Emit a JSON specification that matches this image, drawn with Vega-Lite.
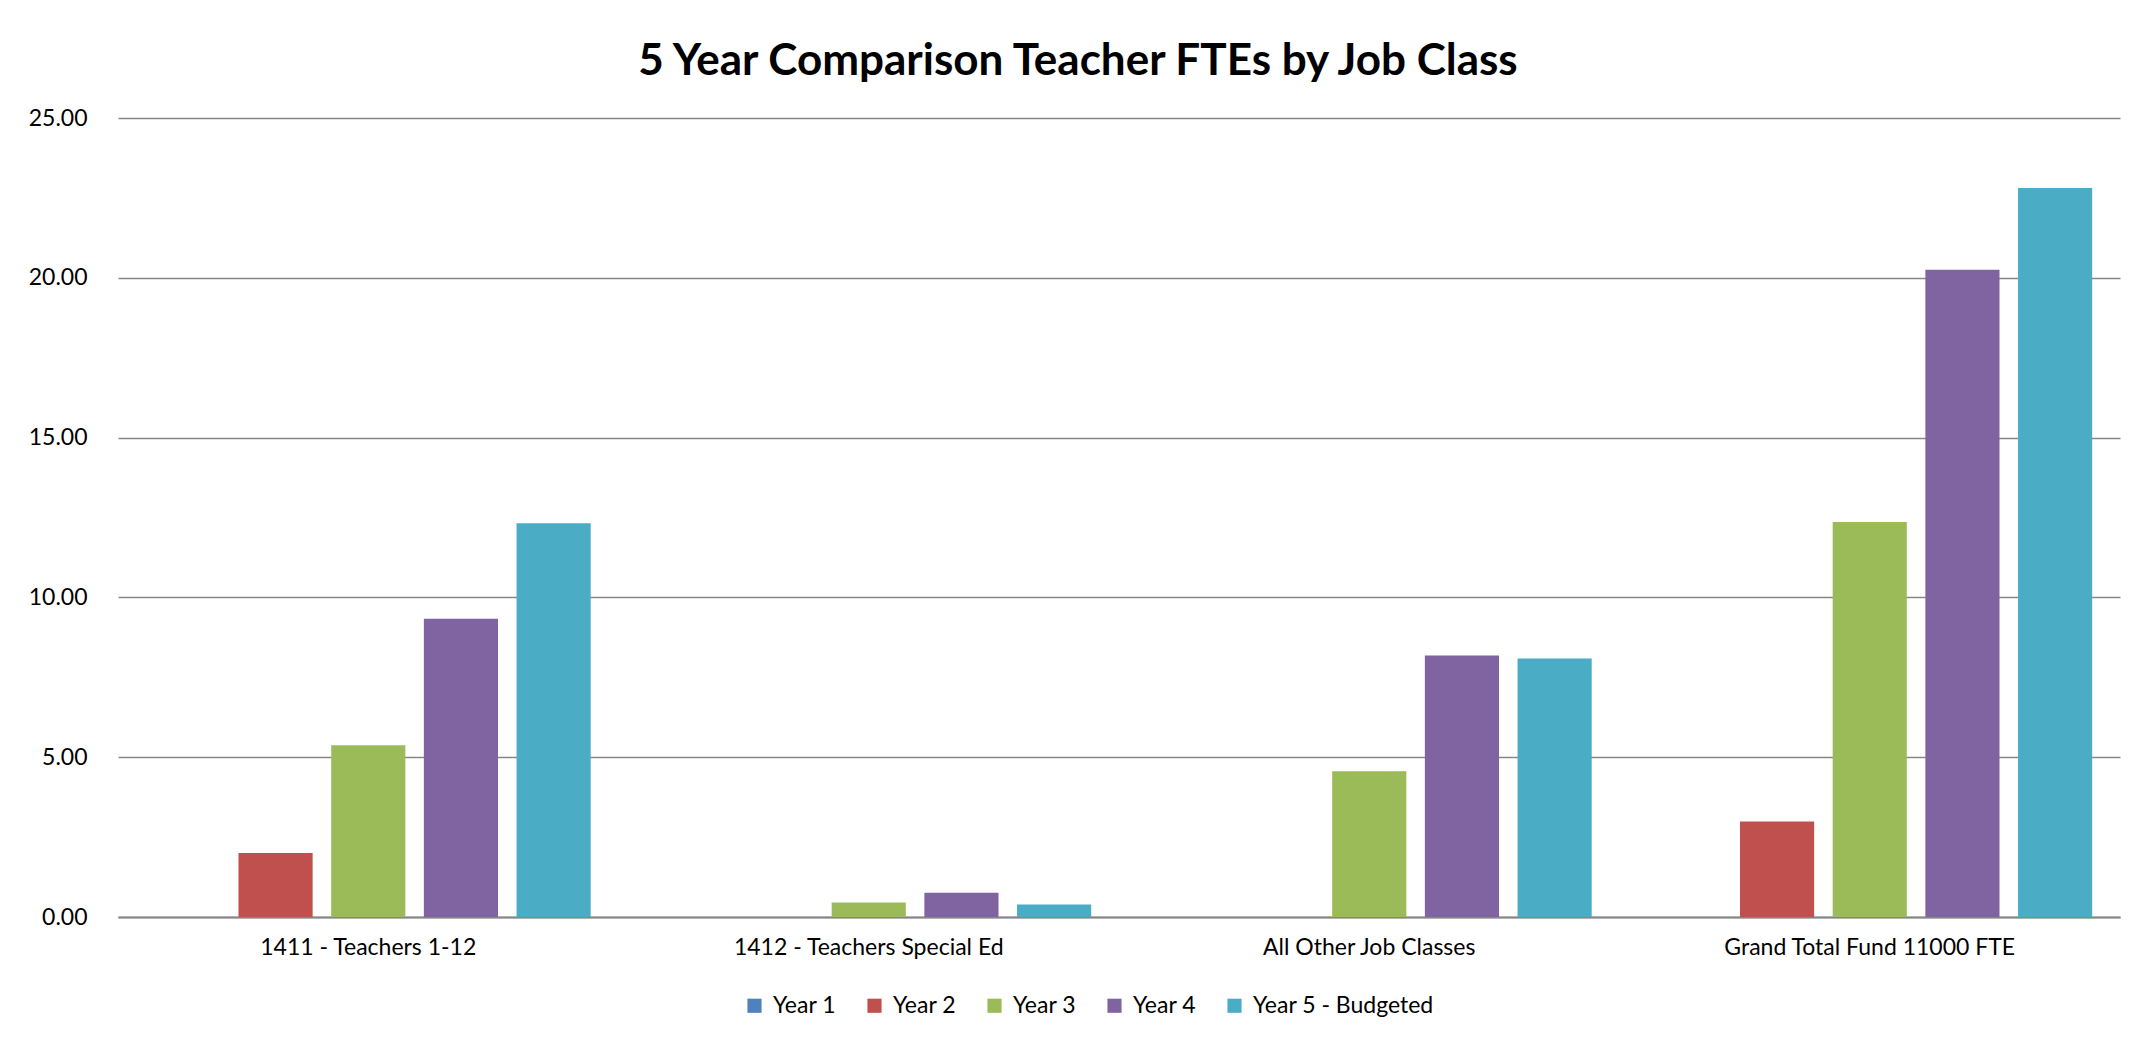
{
  "$schema": "https://vega.github.io/schema/vega-lite/v6.json",
  "autosize": "none",
  "width": 2002,
  "height": 799,
  "padding": {"left": 118, "top": 118, "right": 14, "bottom": 129},
  "background": "white",
  "title": {
    "text": "5 Year Comparison Teacher FTEs by Job Class",
    "font": "Lato",
    "fontWeight": "bold",
    "fontSize": 44,
    "color": "#000000",
    "anchor": "middle",
    "dx": -41,
    "offset": 23
  },
  "data": {
    "values": [
      {"job": "1411 - Teachers 1-12", "year": "Year 1", "fte": 0},
      {"job": "1411 - Teachers 1-12", "year": "Year 2", "fte": 2.0},
      {"job": "1411 - Teachers 1-12", "year": "Year 3", "fte": 5.37},
      {"job": "1411 - Teachers 1-12", "year": "Year 4", "fte": 9.33},
      {"job": "1411 - Teachers 1-12", "year": "Year 5 - Budgeted", "fte": 12.32},
      {"job": "1412 - Teachers Special Ed", "year": "Year 1", "fte": 0},
      {"job": "1412 - Teachers Special Ed", "year": "Year 2", "fte": 0},
      {"job": "1412 - Teachers Special Ed", "year": "Year 3", "fte": 0.45},
      {"job": "1412 - Teachers Special Ed", "year": "Year 4", "fte": 0.76},
      {"job": "1412 - Teachers Special Ed", "year": "Year 5 - Budgeted", "fte": 0.39},
      {"job": "All Other Job Classes", "year": "Year 1", "fte": 0},
      {"job": "All Other Job Classes", "year": "Year 2", "fte": 0},
      {"job": "All Other Job Classes", "year": "Year 3", "fte": 4.56},
      {"job": "All Other Job Classes", "year": "Year 4", "fte": 8.18},
      {"job": "All Other Job Classes", "year": "Year 5 - Budgeted", "fte": 8.09},
      {"job": "Grand Total Fund 11000 FTE", "year": "Year 1", "fte": 0},
      {"job": "Grand Total Fund 11000 FTE", "year": "Year 2", "fte": 2.99},
      {"job": "Grand Total Fund 11000 FTE", "year": "Year 3", "fte": 12.36},
      {"job": "Grand Total Fund 11000 FTE", "year": "Year 4", "fte": 20.25},
      {"job": "Grand Total Fund 11000 FTE", "year": "Year 5 - Budgeted", "fte": 22.81}
    ]
  },
  "mark": {"type": "bar"},
  "encoding": {
    "x": {
      "field": "job",
      "type": "nominal",
      "sort": null,
      "scale": {"paddingInner": 0, "paddingOuter": 0},
      "axis": {
        "title": null,
        "labelAngle": 0,
        "labelFont": "Lato",
        "labelFontSize": 23,
        "labelColor": "#000000",
        "labelPadding": 19,
        "labelLimit": 0,
        "ticks": false,
        "domainColor": "#868686",
        "domainWidth": 2,
        "grid": false
      }
    },
    "xOffset": {
      "field": "year",
      "type": "nominal",
      "sort": null,
      "scale": {"paddingInner": 0.2, "paddingOuter": 0.3}
    },
    "y": {
      "field": "fte",
      "type": "quantitative",
      "scale": {"domain": [0, 25], "nice": false},
      "axis": {
        "title": null,
        "values": [0, 5, 10, 15, 20, 25],
        "format": ".2f",
        "labelFont": "Lato",
        "labelFontSize": 23,
        "labelColor": "#000000",
        "labelPadding": 31,
        "ticks": false,
        "domain": false,
        "gridColor": "#868686",
        "gridWidth": 1.5
      }
    },
    "color": {
      "field": "year",
      "type": "nominal",
      "sort": null,
      "scale": {
        "domain": ["Year 1", "Year 2", "Year 3", "Year 4", "Year 5 - Budgeted"],
        "range": ["#4F81BD", "#C0504D", "#9BBB59", "#8064A2", "#4BACC6"]
      },
      "legend": {
        "title": null,
        "orient": "none",
        "direction": "horizontal",
        "legendX": 625,
        "legendY": 876,
        "symbolType": "square",
        "symbolSize": 200,
        "symbolStrokeWidth": 0,
        "labelFont": "Lato",
        "labelFontSize": 23,
        "labelColor": "#000000",
        "labelOffset": 7,
        "labelLimit": 0,
        "columnPadding": 26
      }
    }
  },
  "config": {
    "view": {"stroke": null}
  }
}
